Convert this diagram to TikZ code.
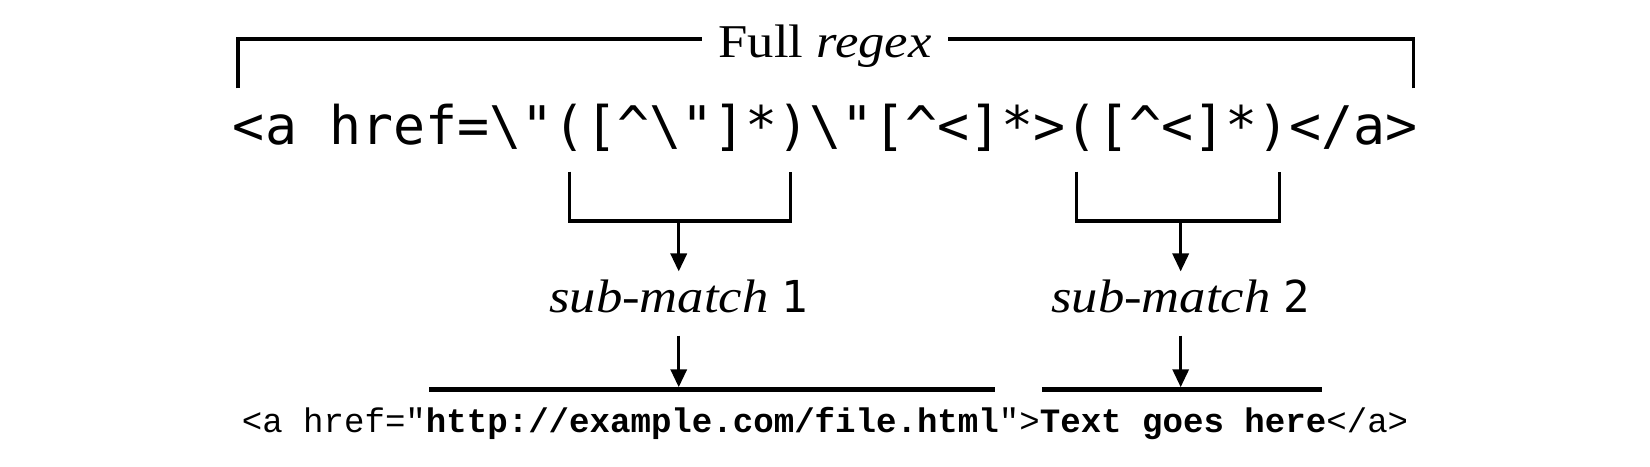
\documentclass[tikz,border=0pt]{standalone}
\usepackage{fontspec}
\usetikzlibrary{arrows.meta}
\setmainfont{Liberation Serif}[FakeStretch=1.12]
\newfontfamily\regexfont{DejaVu Sans Mono}
\newfontfamily\codefont{Liberation Mono}
\newcommand\mybs{\textbackslash}
\newcommand\mycrt{\textasciicircum}
\tikzset{
  lbl/.style={font=\fontsize{47}{52}\selectfont, inner sep=0pt},
  rx/.style={font=\regexfont\fontsize{53.2}{58}\selectfont, inner sep=0pt},
  code/.style={font=\codefont\fontsize{34.1}{38}\selectfont, inner sep=0pt},
  brk/.style={line width=3.4pt},
  uline/.style={line width=5pt},
  arr/.style={line width=3.4pt, -{Triangle[length=18pt,width=16pt]}}
}
\newcommand\digitfont{\regexfont\fontsize{44}{48}\selectfont}
\begin{document}
\begin{tikzpicture}[x=1.0523pt,y=-1.0523pt]
\useasboundingbox (0,0) rectangle (1568,443);
% full regex label and bracket
\node[lbl, anchor=base, inner xsep=16pt] (full) at (784,55) {Full \textit{regex}};
\coordinate (tl) at (226,84);
\coordinate (tr) at (1343,84);
\draw[brk] (tl) |- (full.west |- 0,37);
\draw[brk] (tr) |- (full.east |- 0,37);
% regex
\node[rx, anchor=base] (re) at (784.5,137) {<a href=\mybs"([\mycrt\mybs"]*)\mybs"[\mycrt<]*>([\mycrt<]*)</a>};
% sub-bracket 1
\coordinate (a1) at (541,163);
\coordinate (b1) at (751,163);
\coordinate (m1) at (645,210);
\draw[brk] (a1) |- (b1 |- m1) -- (b1);
\node[lbl, anchor=base] (s1) at (645,297) {\textit{sub-match} {\digitfont 1}};
\draw[arr] (m1) -- (m1 |- 0,258);
% sub-bracket 2
\coordinate (a2) at (1023,163);
\coordinate (b2) at (1216,163);
\coordinate (m2) at (1122,210);
\draw[brk] (a2) |- (b2 |- m2) -- (b2);
\node[lbl, anchor=base] (s2) at (1122,297) {\textit{sub-match} {\digitfont 2}};
\draw[arr] (m2) -- (m2 |- 0,258);
% bottom lines
\coordinate (u1a) at (408,370);
\coordinate (u1b) at (946,370);
\coordinate (u2a) at (990,370);
\coordinate (u2b) at (1256,370);
\draw[uline] (u1a) -- (u1b);
\draw[uline] (u2a) -- (u2b);
\coordinate (c1) at (645,319);
\coordinate (c2) at (1122,319);
\draw[arr] (c1) -- (c1 |- 0,368);
\draw[arr] (c2) -- (c2 |- 0,368);
% bottom code
\node[code, anchor=base] (ex) at (784,411) {<a href="\textbf{http://example.com/file.html}">\textbf{Text goes here}</a>};
\end{tikzpicture}
\end{document}
